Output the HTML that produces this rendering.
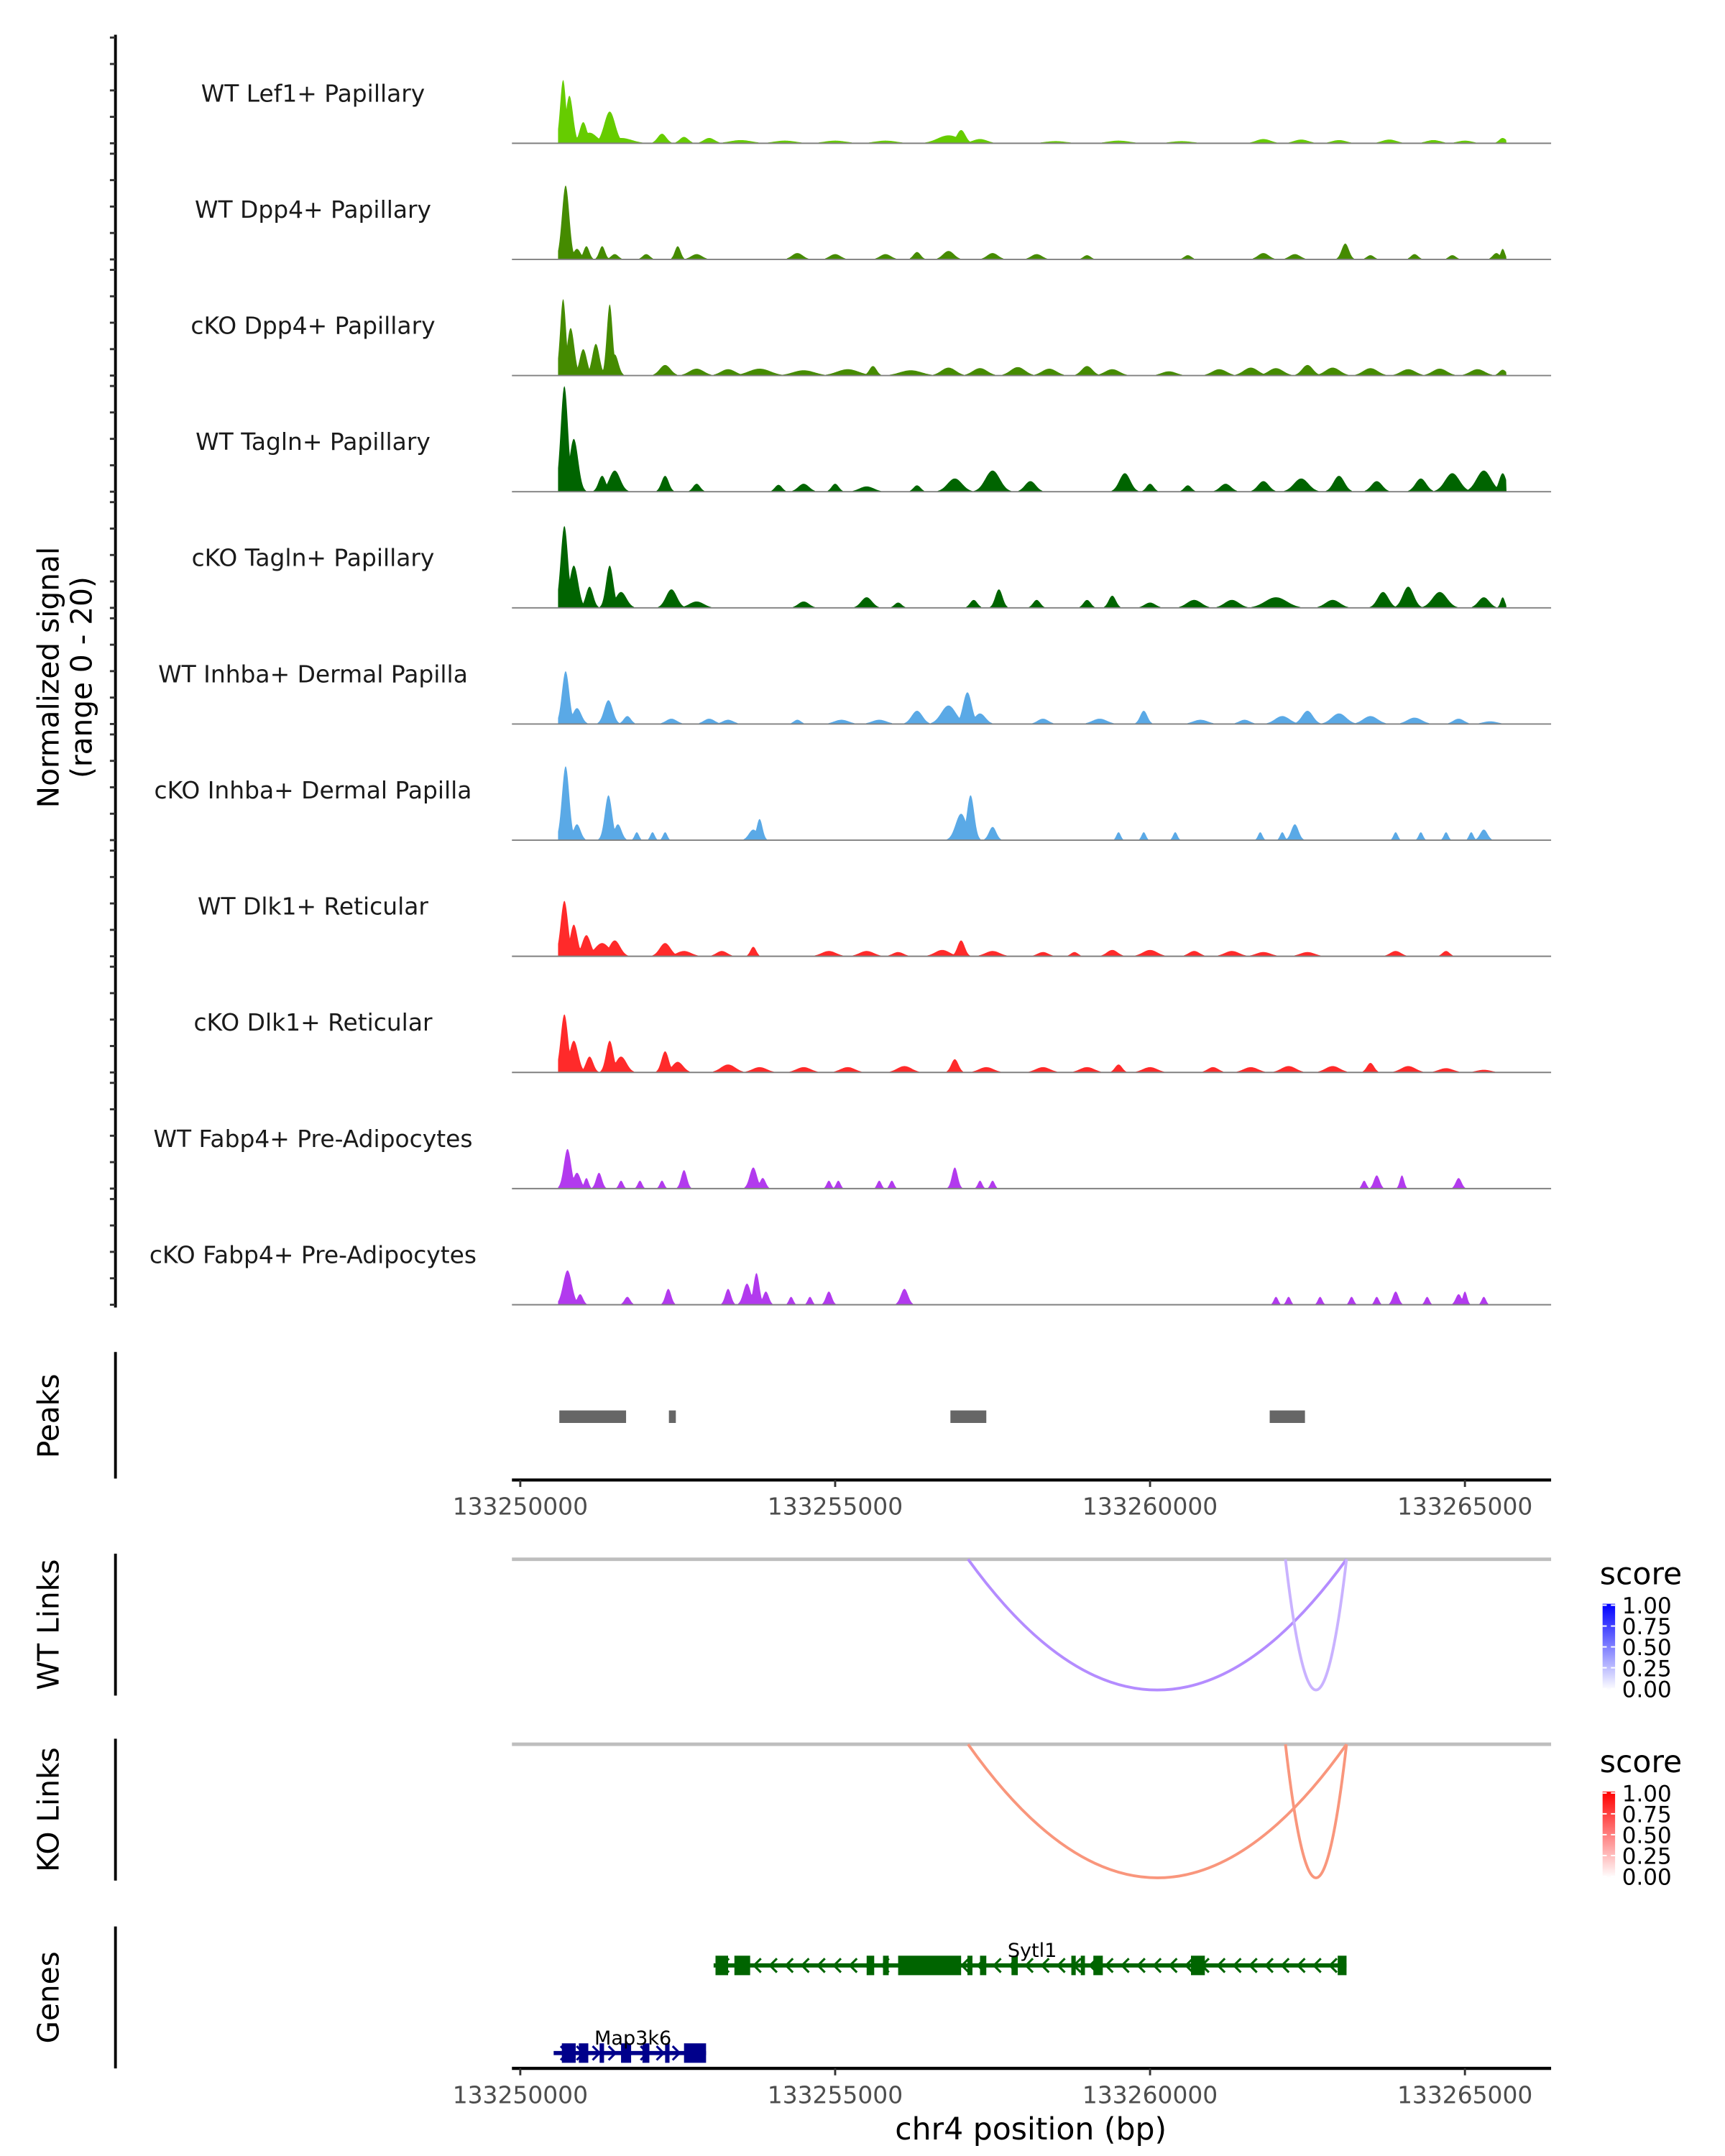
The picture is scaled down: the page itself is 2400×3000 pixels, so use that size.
<!DOCTYPE html>
<html><head><meta charset="utf-8"><style>
html,body{margin:0;padding:0;background:#fff;}
svg{display:block;font-family:"DejaVu Sans","Liberation Sans",sans-serif;}
</style></head><body>
<svg id="fig" width="2400" height="3000" viewBox="0 0 1240 1550" xmlns="http://www.w3.org/2000/svg">
<g id="tracks"></g>
<g id="peaks"></g>
<g id="links"></g>
<g id="genes"></g>
</svg>
<script>
// ---- data ----
const trackNames = ["WT Lef1+ Papillary","WT Dpp4+ Papillary","cKO Dpp4+ Papillary","WT Tagln+ Papillary","cKO Tagln+ Papillary","WT Inhba+ Dermal Papilla","cKO Inhba+ Dermal Papilla","WT Dlk1+ Reticular","cKO Dlk1+ Reticular","WT Fabp4+ Pre-Adipocytes","cKO Fabp4+ Pre-Adipocytes"];
const trackColors = ["#66cc00","#458b00","#458b00","#006400","#006400","#5aa9e6","#5aa9e6","#ff2a2a","#ff2a2a","#b23aee","#b23aee"];
// peaks: [position kb offset from 133250000, value (0-20), width kb]
const sigLef1WT = [[0.68,12,0.08],[0.78,9,0.1],[1.0,4,0.1],[1.1,2,0.2],[1.42,6,0.15],[1.6,1,0.3],[2.25,1.8,0.12],[2.6,1.2,0.12],[3.0,1,0.15],[3.5,0.6,0.3],[4.2,0.5,0.3],[5.0,0.5,0.3],[5.8,0.5,0.3],[6.8,1.5,0.3],[7.0,2.5,0.12],[7.3,0.8,0.2],[8.5,0.4,0.3],[9.5,0.5,0.3],[10.5,0.4,0.3],[11.8,0.8,0.2],[12.4,0.7,0.2],[13.0,0.6,0.2],[13.8,0.7,0.2],[14.5,0.6,0.2],[15.0,0.5,0.2],[15.6,1,0.1]];
const sigDpp4WT = [[0.72,14,0.1],[0.9,2,0.1],[1.05,2.5,0.08],[1.3,2.5,0.08],[1.5,1,0.1],[2.0,1,0.1],[2.5,2.5,0.08],[2.8,1,0.15],[4.4,1.2,0.15],[5.0,1,0.15],[5.8,1,0.15],[6.3,1.4,0.1],[6.8,1.6,0.15],[7.5,1.2,0.15],[8.2,1,0.15],[9,0.8,0.1],[10.6,0.8,0.1],[11.8,1.2,0.15],[12.3,1,0.15],[13.1,3,0.1],[13.5,0.8,0.1],[14.2,1,0.1],[14.8,0.8,0.1],[15.5,1.2,0.1],[15.6,2,0.06]];
const sigDpp4KO = [[0.68,14.5,0.08],[0.8,9,0.1],[1.0,5,0.1],[1.2,6,0.1],[1.42,13.5,0.08],[1.5,4,0.1],[2.3,2,0.15],[2.8,1.3,0.2],[3.3,1.2,0.2],[3.8,1.3,0.3],[4.5,1,0.3],[5.2,1.2,0.3],[5.6,1.8,0.1],[6.2,1,0.3],[6.8,1.5,0.2],[7.3,1.4,0.2],[7.9,1.6,0.2],[8.4,1.3,0.2],[9.0,1.8,0.15],[9.4,1.2,0.2],[10.3,0.8,0.2],[11.1,1.2,0.2],[11.6,1.5,0.2],[12.0,1.4,0.2],[12.5,2,0.15],[12.9,1.5,0.2],[13.5,1.4,0.2],[14.1,1.2,0.2],[14.6,1.3,0.2],[15.2,1.2,0.2],[15.6,1.1,0.1]];
const sigTaglnWT = [[0.7,20,0.1],[0.85,10,0.12],[1.3,3,0.1],[1.5,4,0.15],[2.3,3,0.1],[2.8,1.5,0.1],[4.1,1.3,0.1],[4.5,1.5,0.15],[5.0,1.5,0.1],[5.5,1,0.2],[6.3,1.2,0.1],[6.9,2.5,0.2],[7.5,4,0.2],[8.1,2,0.15],[9.6,3.5,0.15],[10,1.5,0.1],[10.6,1.2,0.1],[11.2,1.5,0.15],[11.8,2,0.15],[12.4,2.5,0.2],[13,3,0.15],[13.6,2,0.15],[14.3,2.5,0.15],[14.8,3.5,0.2],[15.3,4,0.2],[15.6,3.5,0.1]];
const sigTaglnKO = [[0.7,15.5,0.1],[0.85,8,0.12],[1.1,4,0.1],[1.42,8,0.1],[1.6,3,0.15],[2.4,3.5,0.15],[2.8,1.2,0.2],[4.5,1.2,0.15],[5.5,2,0.15],[6.0,1,0.1],[7.2,1.5,0.1],[7.6,3.5,0.1],[8.2,1.5,0.1],[9.0,1.5,0.1],[9.4,2.3,0.1],[10,1,0.15],[10.7,1.5,0.2],[11.3,1.5,0.2],[12.0,2,0.3],[12.9,1.5,0.2],[13.7,3,0.15],[14.1,4,0.15],[14.6,3,0.2],[15.3,2,0.15],[15.6,2,0.06]];
const sigInhbaWT = [[0.72,10,0.1],[0.9,3,0.12],[1.4,4.5,0.12],[1.7,1.5,0.1],[2.4,1,0.15],[3.0,1,0.15],[3.3,0.8,0.15],[4.4,0.8,0.1],[5.1,0.8,0.2],[5.7,0.8,0.2],[6.3,2.5,0.15],[6.8,3.5,0.2],[7.1,6,0.12],[7.3,2,0.15],[8.3,1,0.15],[9.2,1,0.2],[9.9,2.5,0.1],[10.8,0.8,0.2],[11.5,0.8,0.15],[12.1,1.5,0.2],[12.5,2.5,0.15],[13.0,2,0.2],[13.5,1.5,0.2],[14.2,1.2,0.2],[14.9,1,0.15],[15.4,0.5,0.2]];
const sigInhbaKO = [[0.72,14,0.1],[0.9,3,0.1],[1.4,8.5,0.1],[1.55,3,0.1],[1.85,1.5,0.06],[2.1,1.5,0.06],[2.3,1.5,0.06],[3.7,2,0.12],[3.8,4,0.08],[7.0,5,0.15],[7.15,8.5,0.1],[7.5,2.5,0.1],[9.5,1.5,0.06],[9.9,1.5,0.06],[10.4,1.5,0.06],[11.75,1.5,0.06],[12.1,1.5,0.06],[12.3,3,0.1],[13.9,1.5,0.06],[14.3,1.5,0.06],[14.7,1.5,0.06],[15.1,1.5,0.06],[15.3,2,0.1]];
const sigDlk1WT = [[0.7,10.5,0.1],[0.85,6,0.1],[1.05,4,0.12],[1.3,2.5,0.2],[1.5,3,0.15],[2.3,2.5,0.15],[2.6,1,0.2],[3.2,1,0.15],[3.7,1.8,0.08],[4.9,1,0.2],[5.5,1,0.2],[6.0,0.8,0.15],[6.7,1.2,0.2],[7.0,3,0.1],[7.5,1,0.2],[8.3,0.8,0.15],[8.8,0.8,0.1],[9.4,1.2,0.15],[10.0,1.2,0.2],[10.7,1,0.15],[11.3,1,0.2],[11.8,0.8,0.2],[12.5,0.8,0.2],[13.9,1,0.15],[14.7,1,0.1]];
const sigDlk1KO = [[0.7,11,0.1],[0.85,6,0.12],[1.1,3,0.1],[1.42,6,0.1],[1.6,3,0.15],[2.3,4,0.1],[2.5,2,0.15],[3.3,1.5,0.2],[3.8,1,0.2],[4.5,1,0.2],[5.2,1,0.2],[6.1,1.2,0.2],[6.9,2.5,0.1],[7.4,1,0.2],[8.3,1,0.2],[9.0,1,0.2],[9.5,1.5,0.1],[10,1,0.2],[11,1,0.15],[11.6,1,0.2],[12.2,1.2,0.2],[12.9,1.2,0.2],[13.5,1.8,0.1],[14.1,1.2,0.2],[14.7,0.8,0.2],[15.3,0.5,0.2]];
const sigFabp4WT = [[0.75,7.5,0.1],[0.9,3,0.1],[1.05,2,0.06],[1.25,3,0.08],[1.6,1.5,0.06],[1.9,1.5,0.06],[2.25,1.5,0.06],[2.6,3.5,0.08],[3.7,4,0.1],[3.85,2,0.08],[4.9,1.5,0.06],[5.05,1.5,0.06],[5.7,1.5,0.06],[5.9,1.5,0.06],[6.9,4,0.08],[7.3,1.5,0.06],[7.5,1.5,0.06],[13.4,1.5,0.06],[13.6,2.5,0.08],[14.0,2.5,0.06],[14.9,2,0.08]];
const sigFabp4KO = [[0.75,6.5,0.12],[0.95,2,0.08],[1.7,1.5,0.08],[2.35,3,0.08],[3.3,3,0.08],[3.6,4,0.1],[3.75,6,0.08],[3.9,2.5,0.08],[4.3,1.5,0.06],[4.6,1.5,0.06],[4.9,2.5,0.08],[6.1,3,0.1],[12.0,1.5,0.06],[12.2,1.5,0.06],[12.7,1.5,0.06],[13.2,1.5,0.06],[13.6,1.5,0.06],[13.9,2.5,0.08],[14.4,1.5,0.06],[14.9,2,0.08],[15.0,2.5,0.06],[15.3,1.5,0.06]];
const trackSignals = [sigLef1WT,sigDpp4WT,sigDpp4KO,sigTaglnWT,sigTaglnKO,sigInhbaWT,sigInhbaKO,sigDlk1WT,sigDlk1KO,sigFabp4WT,sigFabp4KO];
const xTicks = [133250000,133255000,133260000,133265000];
const peakRegions = [[0.62,1.68],[2.36,2.47],[6.83,7.4],[11.9,12.46]];
// links: [start kb, end kb, score]
const wtLinks = [[7.11,13.12,0.3],[12.15,13.12,0.2]];
const koLinks = [[7.11,13.12,0.3],[12.15,13.12,0.45]];
const legendTicks = ["1.00","0.75","0.50","0.25","0.00"];
const sytl1Exons = [[3.1,3.3],[3.4,3.65],[5.5,5.62],[5.76,5.85],[6.0,7.0],[7.1,7.18],[7.3,7.4],[7.8,7.9],[8.75,8.82],[8.9,8.96],[9.1,9.25],[10.65,10.87],[12.98,13.12]];
const sytl1Span = [3.07,13.12];
const map3k6Exons = [[0.66,0.88],[0.93,1.08],[1.26,1.33],[1.6,1.76],[1.94,2.05],[2.3,2.37],[2.6,2.95]];
const map3k6Span = [0.53,2.95];

// ---- scales ----
const X0=368, X1=1115;
const xs = kb => 374 + kb*45.27;
const xbp = bp => xs((bp-133250000)/1000);
const NS="http://www.w3.org/2000/svg";
function mk(tag, attrs, parent, text){const e=document.createElementNS(NS,tag);for(const k in attrs)e.setAttribute(k,attrs[k]);if(text!==undefined)e.textContent=text;parent.appendChild(e);return e;}

// ---- tracks ----
const gT=document.getElementById('tracks');
const baseY0=103, dY=83.5, pxPer=76/20;
const yAxis=mk('line',{x1:83,y1:25,x2:83,y2:940,stroke:'#000','stroke-width':2},gT);


const yt=mk('text',{transform:'translate(42,487) rotate(-90)','text-anchor':'middle','font-size':21,fill:'#000'},gT,'Normalized signal');


const yt2=mk('text',{transform:'translate(66,487) rotate(-90)','text-anchor':'middle','font-size':21,fill:'#000'},gT,'(range 0 - 20)');


trackNames.forEach((name,i)=>{
  const base=baseY0+i*dY;
  const g=mk('g',{},gT);
  
  
  for(let t=0;t<=4;t++){
    const tk=mk('line',{x1:79,x2:83,y1:base-t*5*pxPer,y2:base-t*5*pxPer,stroke:'#333','stroke-width':1.5},g);
    
    
  }
  const lab=mk('text',{x:225,y:base-30,'text-anchor':'middle','font-size':17,fill:'#1a1a1a'},g,name);
  
  
  const pk=trackSignals[i];
  let d='M'+xs(0.6).toFixed(2)+','+base;
  for(let x=xs(0.6);x<=xs(15.66);x+=0.5){
    const kb=(x-374)/45.27;let v=0;
    pk.forEach(p=>{const dd=(kb-p[0])/p[2];const c=p[1]*Math.exp(-dd*dd*1.5);if(c>v)v=c;});
    if(v<0.15)v=0;v=Math.min(v,20);
    d+='L'+x.toFixed(2)+','+(base-v*pxPer).toFixed(2);
  }
  d+='L'+xs(15.66).toFixed(2)+','+base+'Z';
  const area=mk('path',{d:d,fill:trackColors[i]},g);
  
  
  const bl=mk('line',{x1:X0,x2:X1,y1:base,y2:base,stroke:'#808080','stroke-width':1},g);
  
  
});

// ---- x axis helper ----
function xAxis(parent,y,name){
  const g=mk('g',{},parent);
  
  
  mk('line',{x1:X0,x2:X1,y1:y,y2:y,stroke:'#000','stroke-width':2.2},g);
  xTicks.forEach(t=>{
    const x=xbp(t);
    const tk=mk('line',{x1:x,x2:x,y1:y,y2:y+5,stroke:'#333','stroke-width':1.5},g);
    
    
    const tl=mk('text',{x:x,y:y+25,'text-anchor':'middle','font-size':17,fill:'#4d4d4d'},g,String(t));
    
    
  });
}
function sideLabel(parent,text,cy,y1,y2,name){
  const l=mk('line',{x1:83,x2:83,y1:y1,y2:y2,stroke:'#000','stroke-width':2},parent);
  
  
  const t=mk('text',{transform:'translate(42,'+cy+') rotate(-90)','text-anchor':'middle','font-size':21,fill:'#000'},parent,text);
  
  
}

// ---- peaks ----
const gP=document.getElementById('peaks');
sideLabel(gP,'Peaks',1018,972,1063,'peaks');
peakRegions.forEach(r=>{
  const rc=mk('rect',{x:xs(r[0]),y:1014,width:xs(r[1])-xs(r[0]),height:9,fill:'#666'},gP);
  
  
});
xAxis(gP,1064,'peaks-x-axis');

// ---- links ----
const gL=document.getElementById('links');
function linkPanel(links,topY,depth,colorLo,colorHi,label,name,gradId,gradTop){
  sideLabel(gL,label,topY+47,topY-4,topY+98,name);
  const g=mk('g',{},gL);
  
  
  mk('line',{x1:X0,x2:X1,y1:topY,y2:topY,stroke:'#bebebe','stroke-width':2.5},g);
  links.forEach(l=>{
    const a=xs(l[0]),b=xs(l[1]);
    const col=l[2]<0.25?colorLo:colorHi;
    const p=mk('path',{d:`M${a},${topY} Q${(a+b)/2},${topY+2*depth} ${b},${topY}`,fill:'none',stroke:col,'stroke-width':2},g);
    
    
  });
  const lg=mk('g',{},gL);
  
  
  mk('text',{x:1150,y:gradTop-14,'font-size':22,fill:'#000'},lg,'score');
  const defs=mk('defs',{},lg);
  const gr=mk('linearGradient',{id:gradId,x1:0,y1:0,x2:0,y2:1},defs);
  mk('stop',{offset:'0',"stop-color":gradId==='gb'?'#0000ff':'#ff0000'},gr);
  mk('stop',{offset:'1',"stop-color":'#ffffff'},gr);
  mk('rect',{x:1152,y:gradTop,width:9,height:62,fill:`url(#${gradId})`},lg);
  legendTicks.forEach((t,i)=>{
    const y=gradTop+1+i*15;
    mk('line',{x1:1152,x2:1155,y1:y,y2:y,stroke:'#fff'},lg);
    mk('line',{x1:1158,x2:1161,y1:y,y2:y,stroke:'#fff'},lg);
    mk('text',{x:1166,y:y+6,'font-size':16,fill:'#000'},lg,t);
  });
}
linkPanel(wtLinks,1121,94,'#c9b2ff','#b48cff','WT Links','wt-links','gb',1153);
linkPanel(koLinks,1254,96,'#ffae98','#f9967c','KO Links','ko-links','gr',1288);

// ---- genes ----
const gG=document.getElementById('genes');
sideLabel(gG,'Genes',1436,1385,1487,'genes');
function gene(span,exons,y,col,name,labX,dir){
  const g=mk('g',{},gG);
  
  
  mk('line',{x1:xs(span[0]),x2:xs(span[1]),y1:y,y2:y,stroke:col,'stroke-width':3},g);
  for(let x=xs(span[0])+8;x<xs(span[1])-4;x+=11.5){
    mk('path',{d:dir<0?`M${x+3},${y-5} L${x-2},${y} L${x+3},${y+5}`:`M${x-3},${y-5} L${x+2},${y} L${x-3},${y+5}`,fill:'none',stroke:col,'stroke-width':1.6},g);
  }
  exons.forEach(e=>{
    const r=mk('rect',{x:xs(e[0]),y:y-7,width:Math.max(3,xs(e[1])-xs(e[0])),height:14,fill:col},g);
    
    
  });
  mk('text',{x:labX,y:y-6,'text-anchor':'middle','font-size':14,fill:'#000'},g,name);
}
gene(sytl1Span,sytl1Exons,1413,'#006400','Sytl1',742,-1);
gene(map3k6Span,map3k6Exons,1476,'#00008b','Map3k6',455,1);
xAxis(gG,1487,'genes-x-axis');
const xtitle=mk('text',{x:741,y:1538,'text-anchor':'middle','font-size':22,fill:'#000'},gG,'chr4 position (bp)');


</script>
</body></html>
